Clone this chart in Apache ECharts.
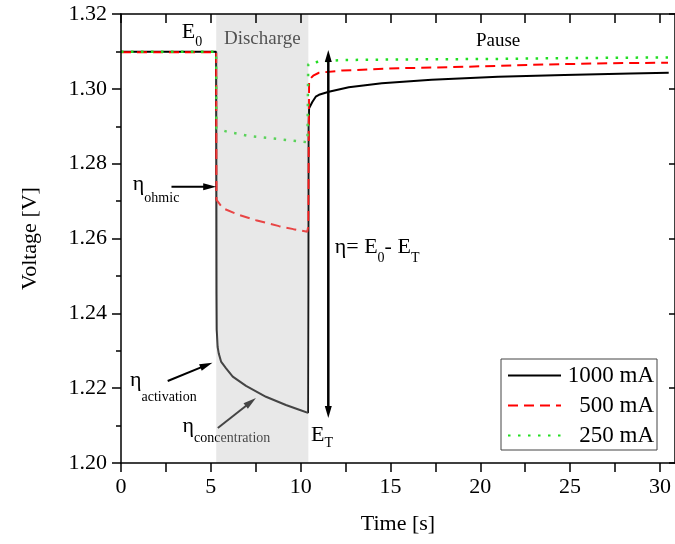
<!DOCTYPE html>
<html><head><meta charset="utf-8">
<script src="https://cdn.jsdelivr.net/npm/echarts@6/dist/echarts.min.js"></script>
<style>html,body{margin:0;padding:0;background:#fff}#c{width:675px;height:544px}</style>
</head><body><div id="c"></div>
<script>
const FONT = "'Liberation Serif','Times New Roman',serif";

// ---- data ----
const seriesNames = ['1000 mA', '500 mA', '250 mA'];
const xTickValues = [0, 2.5, 5, 7.5, 10, 12.5, 15, 17.5, 20, 22.5, 25, 27.5, 30];
const xLabelValues = [0, 5, 10, 15, 20, 25, 30];
const dischargeStart = 5.30, dischargeEnd = 10.43;

const t1000 = [0, 1, 2, 3, 4, 5, 5.30, 5.31, 5.32, 5.33, 5.38, 5.44, 5.57, 5.85, 6.22, 6.96, 8.07, 9.18, 10.0, 10.41,
  10.43, 10.44, 10.47, 10.65, 10.84, 11.02, 11.57, 12.68, 14.52, 17.29, 20.99, 24.68, 28.37, 30.49];
const v1000 = [1.3099, 1.3099, 1.3099, 1.3099, 1.3099, 1.3099, 1.3099, 1.2800, 1.2450, 1.2356, 1.2310, 1.2293, 1.2271, 1.2253, 1.2231, 1.2206, 1.2177, 1.2155, 1.2141, 1.2134,
  1.2500, 1.2900, 1.2948, 1.2965, 1.2979, 1.2984, 1.2992, 1.3004, 1.3015, 1.3024, 1.3032, 1.3037, 1.3041, 1.3043];

const t500 = [0, 1, 2, 3, 4, 5, 5.30, 5.32, 5.67, 6.5, 7.51, 8.80, 9.6, 10.37, 10.42, 10.45, 10.47, 10.7, 11.02,
  12.31, 15.45, 19.14, 22.83, 26.52, 30.45];
const v500 = [1.3098, 1.3098, 1.3098, 1.3098, 1.3098, 1.3098, 1.3098, 1.2703, 1.2681, 1.2664, 1.2649, 1.2633, 1.2625, 1.2618, 1.2632, 1.2900, 1.3024, 1.3035, 1.3043,
  1.3049, 1.3055, 1.3059, 1.3064, 1.3068, 1.3070];

const t250 = [0, 1, 2, 3, 4, 5, 5.30, 5.31, 5.43, 5.94, 7.14, 8.90, 10.09, 10.38, 10.42, 10.6, 11.02, 12.31, 14.5, 17.29, 21.0, 24.68, 27.5, 30.45];
const v250 = [1.3099, 1.3099, 1.3099, 1.3099, 1.3099, 1.3099, 1.3099, 1.2895, 1.2892, 1.2885, 1.2874, 1.2865, 1.2859, 1.2857, 1.3066, 1.3068, 1.3073, 1.3077, 1.3078, 1.3079, 1.3080, 1.3082, 1.3083, 1.3084];

const zip = (t, v) => t.map((x, i) => [x, v[i]]);

const chart = echarts.init(document.getElementById('c'), null, {renderer: 'canvas'});

const axisLineStyle = {color: '#000', width: 1.5};
const xBase = {
  type: 'value', min: 0, max: 30.84, z: 20,
  axisLine: {show: true, onZero: false, lineStyle: axisLineStyle},
  splitLine: {show: false}
};
const yBase = {
  type: 'value', min: 1.20, max: 1.32, interval: 0.02, z: 20,
  axisLine: {show: true, onZero: false, lineStyle: axisLineStyle},
  splitLine: {show: false}, minorSplitLine: {show: false}
};

chart.setOption({
  animation: false,
  backgroundColor: '#fff',
  grid: {left: 121, top: 14, width: 557, height: 449, containLabel: false},
  xAxis: [
    Object.assign({}, xBase, {
      position: 'bottom',
      axisTick: {show: true, inside: false, length: 9, lineStyle: axisLineStyle, customValues: xTickValues},
      axisLabel: {customValues: xLabelValues, formatter: v => String(v), fontFamily: FONT, fontSize: 22, color: '#000', margin: 13},
      name: 'Time [s]', nameLocation: 'middle', nameGap: 50,
      nameTextStyle: {fontFamily: FONT, fontSize: 22, color: '#000'}
    }),
    Object.assign({}, xBase, {
      position: 'top',
      axisTick: {show: true, inside: true, length: 9, lineStyle: axisLineStyle, customValues: xTickValues},
      axisLabel: {show: false}
    })
  ],
  yAxis: [
    Object.assign({}, yBase, {
      position: 'left',
      axisTick: {show: true, inside: false, length: 9, lineStyle: axisLineStyle},
      minorTick: {show: true, splitNumber: 2, length: 5, lineStyle: axisLineStyle},
      axisLabel: {formatter: v => v.toFixed(2), fontFamily: FONT, fontSize: 22, color: '#000', margin: 14},
      name: 'Voltage [V]', nameLocation: 'middle', nameGap: 80,
      nameTextStyle: {fontFamily: FONT, fontSize: 22, color: '#000'}
    }),
    Object.assign({}, yBase, {
      position: 'right',
      axisTick: {show: true, inside: true, length: 6, lineStyle: axisLineStyle},
      minorTick: {show: false},
      axisLabel: {show: false}
    })
  ],
  legend: {
    orient: 'vertical', left: 501, top: 359, data: seriesNames,
    itemWidth: 53, itemHeight: 14, itemGap: 7, padding: [5, 3, 3, 6],
    borderColor: '#444', borderWidth: 1, borderRadius: 0, backgroundColor: '#fff',
    itemStyle: {opacity: 0},
    formatter: n => '{a|' + n + '}',
    textStyle: {rich: {a: {width: 88, align: 'right', fontFamily: FONT, fontSize: 23, color: '#000', lineHeight: 22}}}
  },
  series: [
    {name: seriesNames[0], type: 'line', data: zip(t1000, v1000), symbol: 'none', z: 2,
      lineStyle: {color: '#000', width: 2}, itemStyle: {color: '#000'}},
    {name: seriesNames[1], type: 'line', data: zip(t500, v500), symbol: 'none', z: 2,
      lineStyle: {color: '#ff0000', width: 2, type: [10, 6]}, itemStyle: {color: '#ff0000'}},
    {name: seriesNames[2], type: 'line', data: zip(t250, v250), symbol: 'none', z: 2,
      lineStyle: {color: '#22dd22', width: 2.5, type: [2.5, 7.5]}, itemStyle: {color: '#22dd22'}}
  ]
});

// ---- annotations (data coordinates) ----
const px = (t, v) => chart.convertToPixel({xAxisIndex: 0, yAxisIndex: 0}, [t, v]);
const els = [];

function richLabel(t, v, text, subPad, color, z) {
  const p = px(t, v);
  els.push({
    type: 'text', z: z, silent: true,
    style: {
      x: p[0], y: p[1], text: text, align: 'left', verticalAlign: 'middle',
      rich: {
        m: {fontFamily: FONT, fontSize: 22, fill: color},
        s: {fontFamily: FONT, fontSize: 14, fill: color, padding: [subPad, 0, 0, 0]}
      }
    }
  });
}
function plainLabel(t, v, text, size, color, z) {
  const p = px(t, v);
  els.push({type: 'text', z: z, silent: true,
    style: {x: p[0], y: p[1], text: text, align: 'center', verticalAlign: 'middle',
      fontFamily: FONT, fontSize: size, fill: color}});
}
function arrow(a, b, headLen, headW, lw, color, z, both) {
  const p1 = px(a[0], a[1]), p2 = px(b[0], b[1]);
  const dx = p2[0] - p1[0], dy = p2[1] - p1[1];
  const L = Math.hypot(dx, dy), ux = dx / L, uy = dy / L, nx = -uy, ny = ux;
  const s1 = both ? [p1[0] + ux * headLen * 0.8, p1[1] + uy * headLen * 0.8] : p1;
  const s2 = [p2[0] - ux * headLen * 0.8, p2[1] - uy * headLen * 0.8];
  els.push({type: 'line', z: z, silent: true, shape: {x1: s1[0], y1: s1[1], x2: s2[0], y2: s2[1]},
    style: {stroke: color, lineWidth: lw}});
  const head = (tip, dirx, diry) => {
    const bx = tip[0] - dirx * headLen, by = tip[1] - diry * headLen;
    els.push({type: 'polygon', z: z, silent: true,
      shape: {points: [tip, [bx + nx * headW, by + ny * headW], [bx - nx * headW, by - ny * headW]]},
      style: {fill: color}});
  };
  head(p2, ux, uy);
  if (both) head(p1, -ux, -uy);
}

richLabel(3.38, 1.3150, '{m|E}{s|0}', 19, '#000', 5);
plainLabel((dischargeStart + dischargeEnd) / 2, 1.3132, 'Discharge', 19, '#111', 5);
plainLabel(20.99, 1.3128, 'Pause', 19, '#000', 5);
richLabel(0.66, 1.2745, '{m|η}{s|ohmic}', 29, '#000', 5);
arrow([2.81, 1.27384], [5.30, 1.27384], 13, 3.5, 2, '#000', 5, false);
richLabel(0.50, 1.2220, '{m|η}{s|activation}', 33, '#000', 5);
arrow([2.60, 1.22192], [5.09, 1.22681], 13, 3.5, 2, '#000', 5, false);
richLabel(3.43, 1.2097, '{m|η}{s|concentration}', 24, '#000', 5);
arrow([5.39, 1.20936], [7.51, 1.21737], 13, 3.5, 2, '#000', 5, false);
arrow([11.54, 1.21203], [11.54, 1.31038], 12, 3.5, 2.5, '#000', 5, true);
richLabel(11.90, 1.2578, '{m|η= E}{s|0}{m|- E}{s|T}', 24, '#000', 5);
richLabel(10.58, 1.2074, '{m|E}{s|T}', 17, '#000', 5);

// discharge shading drawn over the curves
const a = px(dischargeStart, 1.32), b = px(dischargeEnd, 1.20);
els.push({type: 'rect', z: 10, silent: true,
  shape: {x: a[0], y: a[1], width: b[0] - a[0], height: b[1] - a[1]},
  style: {fill: 'rgba(190,190,190,0.36)'}});

chart.setOption({graphic: {elements: els}});
</script>
</body></html>
